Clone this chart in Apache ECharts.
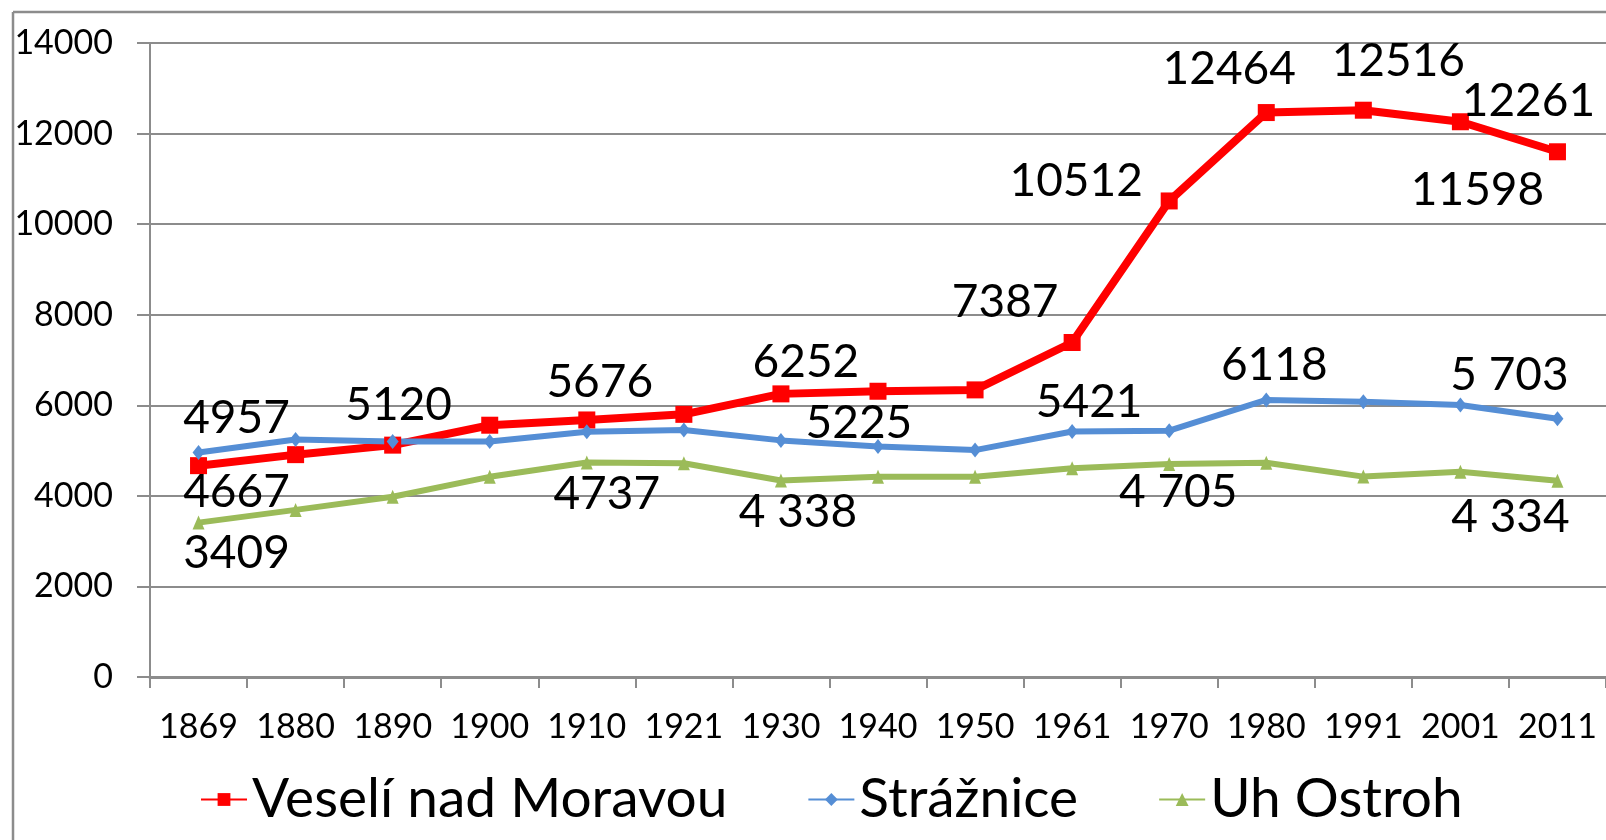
<!DOCTYPE html>
<html>
<head>
<meta charset="utf-8">
<script src="https://cdn.jsdelivr.net/npm/echarts@6/dist/echarts.min.js"></script>
<style>
html,body{margin:0;padding:0;background:#fff;}
#chart{width:1606px;height:840px;}
</style>
</head>
<body>
<div id="chart"></div>
<script>
// ---- data ----
const years = ['1869','1880','1890','1900','1910','1921','1930','1940','1950','1961','1970','1980','1991','2001','2011'];
const yTicks = [0, 2000, 4000, 6000, 8000, 10000, 12000, 14000];
const seriesNames = ['Veselí nad Moravou', 'Strážnice', 'Uh Ostroh'];
const veseli   = [4667, 4910, 5120, 5560, 5676, 5800, 6252, 6310, 6340, 7387, 10512, 12464, 12516, 12261, 11598];
const straznice = [4957, 5245, 5200, 5200, 5415, 5455, 5225, 5090, 5010, 5421, 5440, 6118, 6080, 6005, 5703];
const uhOstroh = [3409, 3690, 3980, 4420, 4737, 4720, 4338, 4420, 4420, 4610, 4705, 4730, 4425, 4530, 4334];
// data label texts (null = no label)
const veseliLabels    = ['4667', null, '5120', null, '5676', null, '6252', null, null, '7387', '10512', '12464', '12516', '12261', '11598'];
const strazniceLabels = ['4957', null, null, null, null, null, '5225', null, null, '5421', null, '6118', null, null, '5 703'];
const uhOstrohLabels  = ['3409', null, null, null, '4737', null, '4 338', null, null, null, '4 705', null, null, null, '4 334'];

// ---- label placement (layout, not data) ----
const labelOffsets = [
  {0:[38,27], 2:[6,-40], 4:[13,-38], 6:[25,-32], 9:[-67,-40], 10:[-93,-20], 11:[-37,-43], 12:[35,-49], 13:[68,-21], 14:[-80,38]},
  {0:[38,-34], 6:[78,-17], 9:[17,-29], 11:[8,-35], 14:[-48,-44]},
  {0:[38,31], 4:[20,32], 6:[17,32], 10:[9,28], 14:[-47,36]}
];

const FONT = 'Lato';

function buildData(values, labels) {
  return values.map((v, i) => {
    const item = { value: v };
    if (labels[i] !== null) {
      item.label = { show: true, formatter: () => labels[i] };
    }
    return item;
  });
}

function layoutFor(seriesIdx) {
  return function (params) {
    const o = labelOffsets[seriesIdx][params.dataIndex] || [0, 0];
    return { dx: o[0], dy: o[1], hideOverlap: false };
  };
}

const labelStyle = { fontFamily: FONT, fontSize: 46, color: '#000', position: 'inside' };

const chart = echarts.init(document.getElementById('chart'), null, { renderer: 'canvas' });
chart.setOption({
  animation: false,
  backgroundColor: '#fff',
  graphic: [
    { type: 'line', shape: { x1: 13, y1: 12, x2: 1606, y2: 12 }, style: { stroke: '#8c8c8c', lineWidth: 2.5 } },
    { type: 'line', shape: { x1: 13, y1: 12, x2: 13, y2: 840 }, style: { stroke: '#8c8c8c', lineWidth: 2.5 } }
  ],
  grid: { left: 150, top: 43, width: 1458, height: 634, containLabel: false },
  legend: {
    data: seriesNames,
    left: 195,
    top: 767,
    itemWidth: 46,
    itemHeight: 16,
    itemGap: 80,
    textStyle: { fontFamily: FONT, fontSize: 55, color: '#000' }
  },
  xAxis: {
    type: 'category',
    data: years,
    boundaryGap: true,
    axisLine: { show: true, lineStyle: { color: '#8c8c8c', width: 3 } },
    axisTick: { show: true, alignWithLabel: false, length: 11, lineStyle: { color: '#8c8c8c', width: 2 } },
    axisLabel: { interval: 0, margin: 33, fontFamily: FONT, fontSize: 34, color: '#000' },
    splitLine: { show: false }
  },
  yAxis: {
    type: 'value',
    min: yTicks[0],
    max: yTicks[yTicks.length - 1],
    interval: yTicks[1] - yTicks[0],
    axisLine: { show: true, lineStyle: { color: '#8c8c8c', width: 2 } },
    axisTick: { show: true, length: 13, lineStyle: { color: '#8c8c8c', width: 2 } },
    axisLabel: { margin: 37, fontFamily: FONT, fontSize: 34, color: '#000', formatter: v => String(v) },
    splitLine: { show: true, lineStyle: { color: '#8c8c8c', width: 2 } }
  },
  series: [
    {
      name: seriesNames[0], type: 'line',
      data: buildData(veseli, veseliLabels),
      color: '#FF0000',
      lineStyle: { color: '#FF0000', width: 8 },
      itemStyle: { color: '#FF0000' },
      symbol: 'rect', symbolSize: 17,
      label: labelStyle,
      labelLayout: layoutFor(0)
    },
    {
      name: seriesNames[1], type: 'line',
      data: buildData(straznice, strazniceLabels),
      color: '#558ED5',
      lineStyle: { color: '#558ED5', width: 6 },
      itemStyle: { color: '#558ED5' },
      symbol: 'diamond', symbolSize: [12, 15],
      label: labelStyle,
      labelLayout: layoutFor(1)
    },
    {
      name: seriesNames[2], type: 'line',
      data: buildData(uhOstroh, uhOstrohLabels),
      color: '#9BBB59',
      lineStyle: { color: '#9BBB59', width: 6 },
      itemStyle: { color: '#9BBB59' },
      symbol: 'triangle', symbolSize: [12, 14],
      label: labelStyle,
      labelLayout: layoutFor(2)
    }
  ]
});
</script>
</body>
</html>
